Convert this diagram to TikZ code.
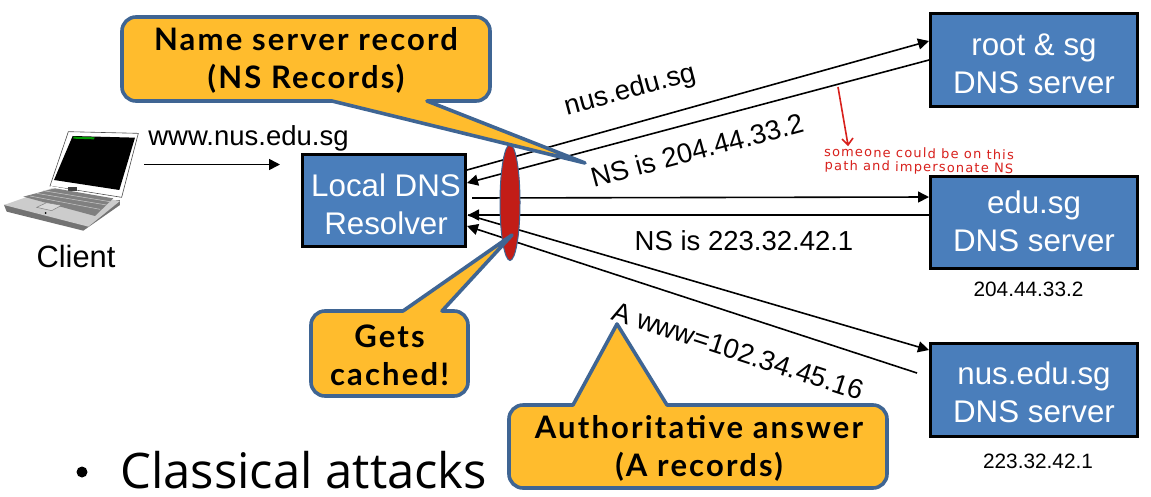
\documentclass[tikz,border=0pt]{standalone}
\usepackage{fontspec}
\setmainfont{Liberation Sans}
\newfontfamily\callfont[LetterSpace=7]{Lato}
\newfontfamily\bulfont{Open Sans}
\newfontfamily\handfont[LetterSpace=9]{DejaVu Sans}
\usetikzlibrary{arrows.meta,shapes.geometric}
\definecolor{boxblue}{HTML}{4A7EBB}
\definecolor{callfill}{HTML}{FFBC2D}
\definecolor{callline}{HTML}{3F6593}
\definecolor{lensred}{HTML}{C21D17}
\definecolor{handred}{HTML}{D8201C}
\newcommand{\fs}[1]{\fontsize{#1}{#1}\selectfont}
\tikzset{
  x=1pt,y=-1pt,
  server/.style={draw=black,line width=3pt,fill=boxblue,inner sep=0pt},
  srvtext/.style={inner sep=0pt,text=white,align=center,font=\fs{31.3},execute at begin node={\setlength{\baselineskip}{38pt}}},
  msg/.style={draw=black,line width=1.6pt,-{Triangle[length=11pt,width=11pt]}},
  lbl/.style={inner sep=0pt,font=\fs{27.5}},
  small/.style={inner sep=0pt,font=\fs{20.8}},
  callout/.style={draw=callline,line width=3.6pt,fill=callfill,line join=round},
  calltext/.style={inner sep=0pt,align=center,font=\callfont\bfseries\fs{31},execute at begin node={\setlength{\baselineskip}{38pt}}},
  hand/.style={inner sep=0pt,text=handred,font=\handfont\fs{13}},
}
\begin{document}
\begin{tikzpicture}
\useasboundingbox (0,0) rectangle (1151,496);
\fill[white] (0,0) rectangle (1151,496);

% laptop
\begin{scope}[shift={(0,90)},x=0.3333pt,y=-0.3333pt]
  \fill[black!55] (12,345) -- (20,365) -- (250,422) -- (360,345) -- (360,330) -- cycle;
  \filldraw[fill=white,draw=black!70,line width=0.6pt] (205,125) -- (415,130) -- (365,322) -- (150,288) -- cycle;
  \fill[black] (218,138) -- (405,143) -- (358,300) -- (162,270) -- cycle;
  \fill[green!60!black] (220,140) -- (284,142) -- (282,148) -- (220,146) -- cycle;
  \fill[white] (152,288) -- (362,325) -- (345,325) -- (150,298) -- cycle;
  \fill[black!75] (205,290) rectangle (230,303);
  \fill[black!20!white] (12,345) -- (155,295) -- (360,333) -- (265,410) -- cycle;
  \fill[black!50] (70,320) -- (165,295) -- (340,325) -- (285,378) -- cycle;
  \draw[black!20,line width=0.5pt] (90,318) -- (300,358) (110,310) -- (320,345) (130,302) -- (330,335);
  \filldraw[fill=black!15,draw=black!50,line width=0.5pt] (110,352) -- (140,338) -- (185,346) -- (155,362) -- cycle;
  \fill[black] (137,369) circle[radius=3];
\end{scope}
\node[inner sep=0pt,font=\fs{30.8}] (client) at (76,256) {Client};
\coordinate (laptopout) at (144,164.5);
\coordinate (laptopin) at (280,164.5);

% servers
\node[server,minimum width=163pt,minimum height=92pt] (resolver) at (383.5,200) {};
\node[server,minimum width=207pt,minimum height=93pt] (root) at (1033.5,59.5) {};
\node[server,minimum width=207pt,minimum height=92pt] (edu) at (1033.5,222) {};
\node[server,minimum width=207pt,minimum height=93pt] (nus) at (1033.5,389.5) {};
\node[srvtext] (tres) at (386,204) {Local DNS\\Resolver};
\node[srvtext] (troot) at (1034,64) {root \& sg\\DNS server};
\node[srvtext] (tedu) at (1034,221) {edu.sg\\DNS server};
\node[srvtext] (tnus) at (1034,392) {nus.edu.sg\\DNS server};

% connector end points
\coordinate (r1) at (467,170);
\coordinate (r2) at (467,183);
\coordinate (r3) at (472,198);
\coordinate (r4) at (468,215);
\coordinate (r5) at (467,226);
\coordinate (s1) at (929,41);
\coordinate (s2) at (929,60);
\coordinate (e1) at (929,197);
\coordinate (e2) at (929,215);
\coordinate (n1) at (929,350);
\coordinate (n2) at (917,373);

\draw[msg] (laptopout) -- (laptopin);
\draw[msg] (r1) -- (s1);
\draw[msg] (s2) -- (r2);
\draw[msg] (r3) -- (e1);
\draw[msg] (e2) -- (r4);
\draw[msg] (r4) -- (n1);
\draw[msg] (n2) -- (r5);

% red lens
\node[draw=callline,line width=1pt,fill=lensred,ellipse,minimum width=20pt,minimum height=116pt,inner sep=0pt] (lens) at (510,202.5) {};

% labels
\node[lbl] (q) at (248.5,138) {www.nus.edu.sg};
\node[lbl,rotate=15] (l1) at (630,91) {nus.edu.sg};
\node[lbl,rotate=15] (l2) at (697,150) {NS is 204.44.33.2};
\node[lbl] (l3) at (744,241) {NS is 223.32.42.1};
\node[lbl,rotate=-18] (l4) at (738,351) {A www=102.34.45.16};
\node[small] (ip1) at (1028.5,289) {204.44.33.2};
\node[small] (ip2) at (1038,461) {223.32.42.1};

% hand note
\coordinate (h1) at (838,87);
\coordinate (h2) at (848,145);
\draw[handred,line width=1.6pt] (h1) -- (h2) (842,139) -- (h2) -- (853,138);
\node[hand,rotate=-1] (n3) at (919,153) {someone could be on this};
\node[hand,rotate=-1] (n4) at (919,168) {path and impersonate NS};

% callouts
\draw[callout] (136,17) -- (476,17) arc[start angle=-90,end angle=0,radius=14] -- (490,87) arc[start angle=0,end angle=90,radius=14] -- (427,101) -- (585,163) -- (332,101) -- (136,101) arc[start angle=90,end angle=180,radius=14] -- (122,31) arc[start angle=180,end angle=270,radius=14] -- cycle;
\node[calltext] (c1) at (306,60) {Name server record\\(NS Records)};

\draw[callout] (325,311) -- (403,311) -- (512,235) -- (442,311) -- (454,311) arc[start angle=-90,end angle=0,radius=14] -- (468,382) arc[start angle=0,end angle=90,radius=14] -- (325,396) arc[start angle=90,end angle=180,radius=14] -- (311,325) arc[start angle=180,end angle=270,radius=14] -- cycle;
\node[calltext] (c2) at (389.5,355) {Gets\\cached!};

\draw[callout] (523,405) -- (573,405) -- (617,324) -- (667,405) -- (873,405) arc[start angle=-90,end angle=0,radius=14] -- (887,474) arc[start angle=0,end angle=90,radius=14] -- (523,488) arc[start angle=90,end angle=180,radius=14] -- (509,419) arc[start angle=180,end angle=270,radius=14] -- cycle;
\node[calltext] (c3) at (699,448) {Authoritative answer\\(A records)};

% bullet line
\fill[black] (82,472) circle[radius=5.5];
\node[inner sep=0pt,anchor=base west,font=\bulfont\fs{49}] (cl) at (120,488) {Classical attacks};
\end{tikzpicture}
\end{document}
